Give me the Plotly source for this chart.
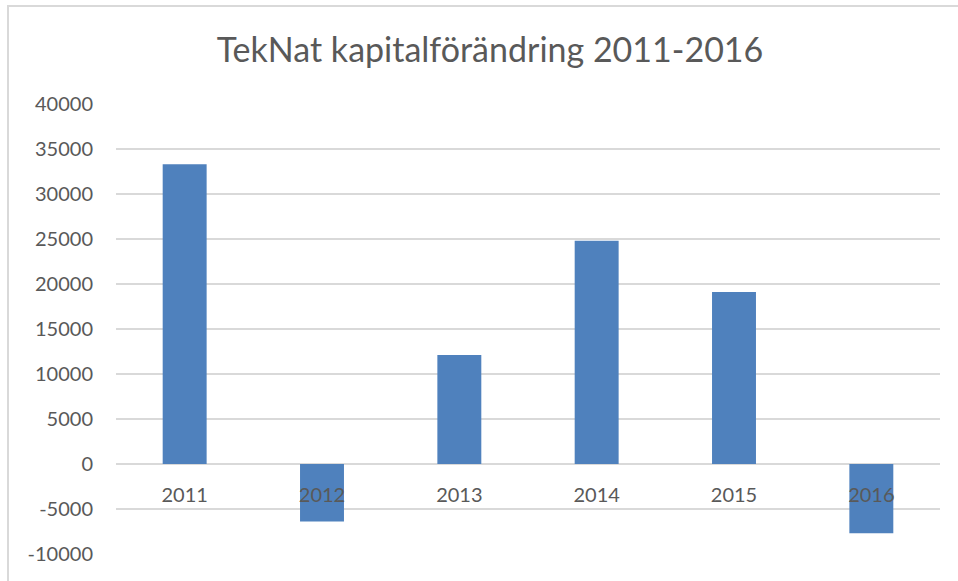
import plotly.graph_objects as go

years = ["2011", "2012", "2013", "2014", "2015", "2016"]
values = [33300, -6400, 12100, 24800, 19100, -7700]
y_ticks = [-10000, -5000, 0, 5000, 10000, 15000, 20000, 25000, 30000, 35000, 40000]
title_text = "TekNat kapitalförändring 2011-2016"

W, H = 958, 581
L, R, T, B = 116, 18, 104, 27
pw, ph = W - L - R, H - T - B
ymin, ymax = -10000, 40000

grey_text = "#595959"
grid = "#d9d9d9"
font = "Lato"

fig = go.Figure(go.Bar(x=years, y=values, marker=dict(color="#4f81bd", line=dict(width=0)),
                       hoverinfo="skip"))

fig.update_layout(
    width=W, height=H,
    margin=dict(l=L, r=R, t=T, b=B, pad=0),
    paper_bgcolor="white", plot_bgcolor="white",
    bargap=0.68,
    showlegend=False,
    title=dict(text=title_text, x=(490 - L) / pw, xref="paper", xanchor="center",
               y=1 - 50 / H, yanchor="middle",
               font=dict(family=font, size=34, color=grey_text)),
    font=dict(family=font, color=grey_text),
    xaxis=dict(
        anchor="free", position=(0 - ymin) / (ymax - ymin),
        showgrid=False, showline=False, zeroline=False,
        ticks="outside", ticklen=13, tickcolor="rgba(0,0,0,0)",
        tickfont=dict(family=font, size=20, color=grey_text),
    ),
    yaxis=dict(
        range=[ymin, ymax], tickvals=y_ticks, ticktext=[str(v) for v in y_ticks],
        showgrid=True, gridcolor=grid, gridwidth=2,
        zeroline=True, zerolinecolor=grid, zerolinewidth=2,
        showline=False,
        ticks="outside", ticklen=18, tickcolor="rgba(0,0,0,0)",
        tickfont=dict(family=font, size=20, color=grey_text),
    ),
)

# outer chart border (left and top edges visible in the reference)
x0 = (8 - L) / pw
y0 = (H - B - 6) / ph
fig.add_shape(type="rect", xref="paper", yref="paper", x0=x0, x1=1.2, y0=-0.3, y1=y0,
              line=dict(color=grid, width=2), fillcolor="rgba(0,0,0,0)", layer="below")

fig.write_html("out.html", config={"displayModeBar": False},
               post_script="document.body.style.margin='0';document.body.style.overflow='hidden';")
